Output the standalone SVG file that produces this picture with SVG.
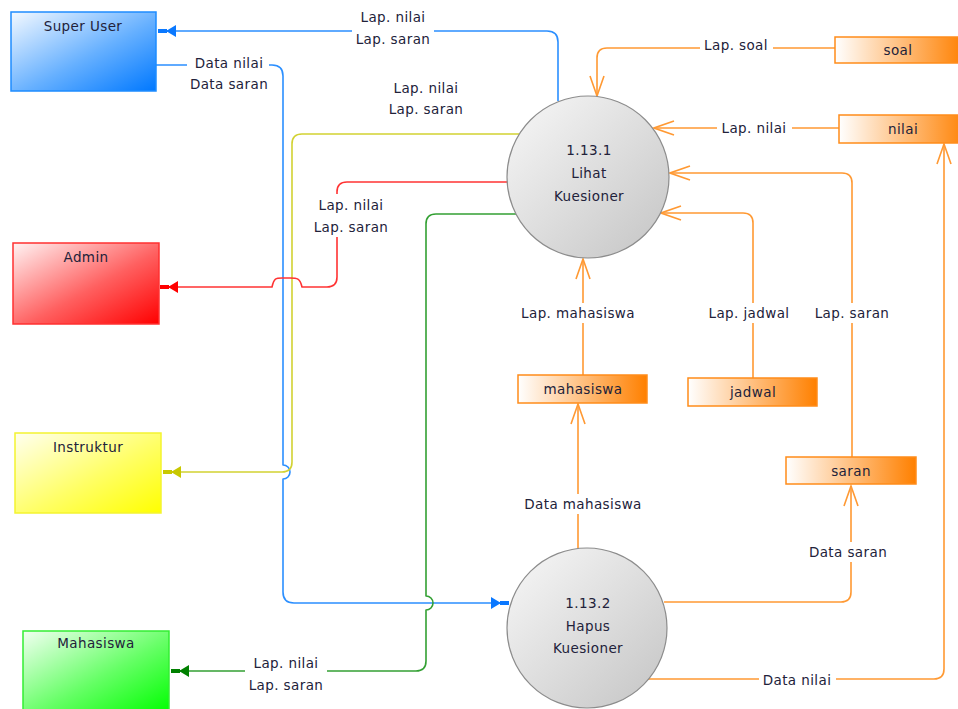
<svg xmlns="http://www.w3.org/2000/svg" width="958" height="709" viewBox="0 0 958 709">
  <defs>
    <linearGradient id="gBlue" x1="0" y1="0" x2="1" y2="1">
      <stop offset="0" stop-color="#f4f9ff"/>
      <stop offset="0.55" stop-color="#66b0ff"/>
      <stop offset="1" stop-color="#0078ff"/>
    </linearGradient>
    <linearGradient id="gRed" x1="0" y1="0" x2="1" y2="1">
      <stop offset="0" stop-color="#fff4f4"/>
      <stop offset="0.55" stop-color="#ff6060"/>
      <stop offset="1" stop-color="#ff0000"/>
    </linearGradient>
    <linearGradient id="gYellow" x1="0" y1="0" x2="1" y2="1">
      <stop offset="0" stop-color="#fffff0"/>
      <stop offset="0.55" stop-color="#ffff66"/>
      <stop offset="1" stop-color="#ffff00"/>
    </linearGradient>
    <linearGradient id="gGreen" x1="0" y1="0" x2="1" y2="1">
      <stop offset="0" stop-color="#f2fff2"/>
      <stop offset="0.55" stop-color="#66ff66"/>
      <stop offset="1" stop-color="#00ff00"/>
    </linearGradient>
    <linearGradient id="gStore" x1="0" y1="0" x2="1" y2="0">
      <stop offset="0" stop-color="#ffffff"/>
      <stop offset="1" stop-color="#ff8000"/>
    </linearGradient>
    <linearGradient id="gProc" x1="0" y1="0" x2="1" y2="1">
      <stop offset="0" stop-color="#f8f8f8"/>
      <stop offset="1" stop-color="#c4c4c4"/>
    </linearGradient>
    <marker id="aBlue" markerUnits="userSpaceOnUse" markerWidth="20" markerHeight="14" viewBox="-19 -7 20 14" refX="0" refY="0" orient="auto">
      <path d="M -18 -6 L -8 0 L -18 6 Z M -9 -2 H 0 V 2 H -9 Z" fill="#0a78ff"/>
    </marker>
    <marker id="aRed" markerUnits="userSpaceOnUse" markerWidth="20" markerHeight="14" viewBox="-19 -7 20 14" refX="0" refY="0" orient="auto">
      <path d="M -18 -6 L -8 0 L -18 6 Z M -9 -2 H 0 V 2 H -9 Z" fill="#ff0000"/>
    </marker>
    <marker id="aYellow" markerUnits="userSpaceOnUse" markerWidth="20" markerHeight="14" viewBox="-19 -7 20 14" refX="0" refY="0" orient="auto">
      <path d="M -18 -6 L -8 0 L -18 6 Z M -9 -2 H 0 V 2 H -9 Z" fill="#c8c800"/>
    </marker>
    <marker id="aGreen" markerUnits="userSpaceOnUse" markerWidth="20" markerHeight="14" viewBox="-19 -7 20 14" refX="0" refY="0" orient="auto">
      <path d="M -18 -6 L -8 0 L -18 6 Z M -9 -2 H 0 V 2 H -9 Z" fill="#008000"/>
    </marker>
    <marker id="aOrange" markerUnits="userSpaceOnUse" markerWidth="24" markerHeight="18" viewBox="-22 -9 24 18" refX="0" refY="0" orient="auto">
      <path d="M -20 -7 L 0 0 L -20 7" fill="none" stroke="#ff9933" stroke-width="1.6"/>
    </marker>
  </defs>
  <style>
    text { font-family: "DejaVu Sans", Verdana, sans-serif; font-size: 13.5px; fill: #22223a; text-anchor: middle; letter-spacing: 0.4px; }
    .flow { fill: none; stroke-width: 1.6; stroke-linejoin: round; }
    .blue { stroke: #2b8fff; }
    .red { stroke: #ff3333; }
    .yellow { stroke: #d2d232; }
    .green { stroke: #33a033; }
    .orange { stroke: #ff9933; }
    .store { fill: url(#gStore); stroke: #ff8c1a; stroke-width: 1.5; }
    .proc { fill: url(#gProc); stroke: #8c8c8c; stroke-width: 1.2; }
    .halo { fill: #ffffff; }
  </style>
  <rect width="958" height="709" fill="#ffffff"/>

  <!-- connectors -->
  <g id="connectors">
    <!-- external entity flows -->
    <path class="flow blue" d="M 558 101 L 558 42 Q 558 31 547 31 L 158 31" marker-end="url(#aBlue)"/>
    <path class="flow blue" d="M 156 65 L 272 65 Q 283 65 283 76 L 283 465 A 7 7 0 0 1 283 479 L 283 592 Q 283 603 294 603 L 509 603" marker-end="url(#aBlue)"/>
    <path class="flow yellow" d="M 519 134 L 302 134 Q 292 134 292 144 L 292 462 Q 292 472 282 472 L 163 472" marker-end="url(#aYellow)"/>
    <path class="flow red" d="M 508 182 L 347 182 Q 337 182 337 192 L 337 277 Q 337 287 327 287 L 302 287 C 300 278 297 278 290 278 L 282 278 C 276 278 274 278 272 287 L 160 287" marker-end="url(#aRed)"/>
    <path class="flow green" d="M 516 214 L 436 214 Q 426 214 426 224 L 426 596 A 7 7 0 0 1 426 610 L 426 661 Q 426 671 416 671 L 171 671" marker-end="url(#aGreen)"/>

    <!-- data store flows -->
    <path class="flow orange" d="M 835 48 L 607 48 Q 597 48 597 58 L 597 96" marker-end="url(#aOrange)"/>
    <path class="flow orange" d="M 839 128 L 654 128" marker-end="url(#aOrange)"/>
    <path class="flow orange" d="M 852 457 L 852 183 Q 852 173 842 173 L 670 173" marker-end="url(#aOrange)"/>
    <path class="flow orange" d="M 753 378 L 753 223 Q 753 213 743 213 L 661 213" marker-end="url(#aOrange)"/>
    <path class="flow orange" d="M 583 375 L 583 259" marker-end="url(#aOrange)"/>
    <path class="flow orange" d="M 578 549 L 578 404" marker-end="url(#aOrange)"/>
    <path class="flow orange" d="M 664 602 L 841 602 Q 851 602 851 592 L 851 486" marker-end="url(#aOrange)"/>
    <path class="flow orange" d="M 648 679 L 934 679 Q 944 679 944 669 L 944 144" marker-end="url(#aOrange)"/>

    <!-- flow labels -->
    <g id="lbl-top">
      <rect class="halo" x="352" y="8" width="82" height="40"/>
      <text x="393" y="22">Lap. nilai</text>
      <text x="393" y="44">Lap. saran</text>
    </g>
    <g id="lbl-data-su">
      <rect class="halo" x="187" y="56" width="82" height="40"/>
      <text x="229" y="68">Data nilai</text>
      <text x="229" y="89">Data saran</text>
    </g>
    <g id="lbl-yellow">
      <text x="426" y="93">Lap. nilai</text>
      <text x="426" y="114">Lap. saran</text>
    </g>
    <g id="lbl-red">
      <rect class="halo" x="310" y="194" width="82" height="43"/>
      <text x="351" y="210">Lap. nilai</text>
      <text x="351" y="232">Lap. saran</text>
    </g>
    <g id="lbl-green">
      <rect class="halo" x="245" y="654" width="82" height="40"/>
      <text x="286" y="668">Lap. nilai</text>
      <text x="286" y="690">Lap. saran</text>
    </g>
    <g id="lbl-soal">
      <rect class="halo" x="700" y="38" width="73" height="18"/>
      <text x="736" y="50">Lap. soal</text>
    </g>
    <g id="lbl-nilai">
      <rect class="halo" x="717" y="119" width="75" height="18"/>
      <text x="754" y="133">Lap. nilai</text>
    </g>
    <g id="lbl-mhs">
      <rect class="halo" x="515" y="303" width="126" height="20"/>
      <text x="578" y="318">Lap. mahasiswa</text>
    </g>
    <g id="lbl-jadwal">
      <rect class="halo" x="704" y="303" width="92" height="20"/>
      <text x="749" y="318">Lap. jadwal</text>
    </g>
    <g id="lbl-saran">
      <rect class="halo" x="811" y="303" width="82" height="20"/>
      <text x="852" y="318">Lap. saran</text>
    </g>
    <g id="lbl-dmhs">
      <rect class="halo" x="520" y="494" width="126" height="20"/>
      <text x="583" y="509">Data mahasiswa</text>
    </g>
    <g id="lbl-dsaran">
      <rect class="halo" x="806" y="542" width="86" height="20"/>
      <text x="848" y="557">Data saran</text>
    </g>
    <g id="lbl-dnilai">
      <rect class="halo" x="759" y="670" width="77" height="20"/>
      <text x="797" y="685">Data nilai</text>
    </g>
  </g>

  <!-- external entities -->
  <g id="super-user">
    <rect x="11" y="12" width="145" height="79" fill="url(#gBlue)" stroke="#1e8cff" stroke-width="1.5"/>
    <text x="83" y="31">Super User</text>
  </g>
  <g id="admin">
    <rect x="13" y="243" width="146" height="81" fill="url(#gRed)" stroke="#ff3030" stroke-width="1.5"/>
    <text x="86" y="262">Admin</text>
  </g>
  <g id="instruktur">
    <rect x="15" y="433" width="146" height="80" fill="url(#gYellow)" stroke="#f4f430" stroke-width="1.5"/>
    <text x="88" y="452">Instruktur</text>
  </g>
  <g id="mahasiswa">
    <rect x="23" y="631" width="146" height="82" fill="url(#gGreen)" stroke="#33ee33" stroke-width="1.5"/>
    <text x="96" y="648">Mahasiswa</text>
  </g>

  <!-- processes -->
  <g id="proc-1-13-1">
    <circle class="proc" cx="588" cy="177" r="81"/>
    <text x="589" y="155">1.13.1</text>
    <text x="589" y="178">Lihat</text>
    <text x="589" y="201">Kuesioner</text>
  </g>
  <g id="proc-1-13-2">
    <circle class="proc" cx="587" cy="628" r="80"/>
    <text x="588" y="608">1.13.2</text>
    <text x="588" y="631">Hapus</text>
    <text x="588" y="653">Kuesioner</text>
  </g>

  <!-- data stores -->
  <g id="store-soal">
    <rect class="store" x="835" y="37" width="130" height="26"/>
    <text x="898" y="55">soal</text>
  </g>
  <g id="store-nilai">
    <rect class="store" x="839" y="115" width="130" height="28"/>
    <text x="903" y="134">nilai</text>
  </g>
  <g id="store-mahasiswa">
    <rect class="store" x="518" y="375" width="129" height="28"/>
    <text x="583" y="394">mahasiswa</text>
  </g>
  <g id="store-jadwal">
    <rect class="store" x="688" y="378" width="129" height="28"/>
    <text x="753" y="397">jadwal</text>
  </g>
  <g id="store-saran">
    <rect class="store" x="786" y="457" width="130" height="27"/>
    <text x="851" y="476">saran</text>
  </g>
</svg>
